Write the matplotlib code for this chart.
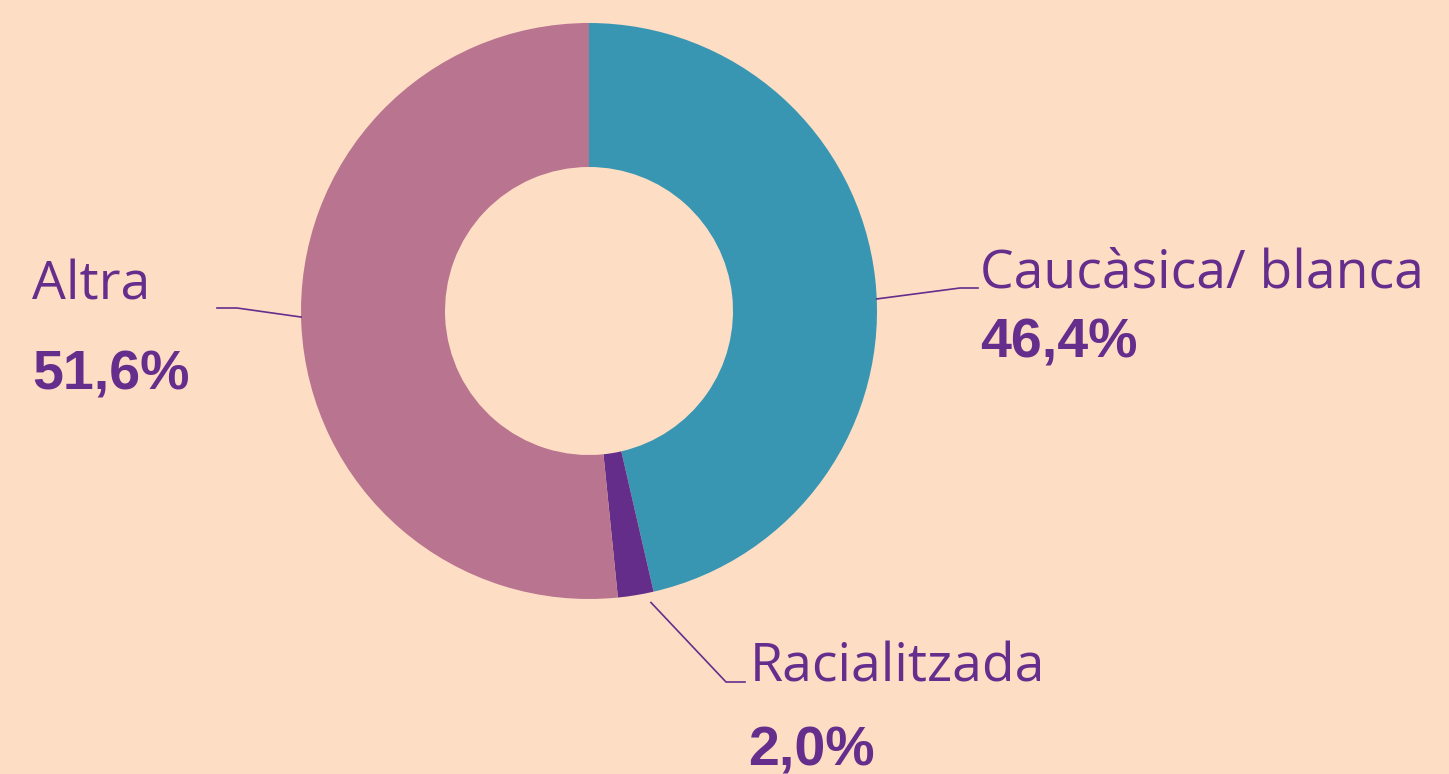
import numpy as np
import matplotlib
matplotlib.use("Agg")
import matplotlib.pyplot as plt

# ── Data ────────────────────────────────────────────
categories = ["Caucàsica/ blanca", "Racialitzada", "Altra"]
values = [46.4, 2.0, 51.6]
pct_labels = ["46,4%", "2,0%", "51,6%"]
colors = ["#3896B2", "#642D8A", "#B9748F"]

BG = "#FDDEC5"
TXT = "#652D8C"

W, H = 1449, 774
fig = plt.figure(figsize=(W / 100, H / 100), dpi=100, facecolor=BG)
ax = fig.add_axes([0, 0, 1, 1])
ax.set_facecolor(BG)

cx, cy, R = 589, H - 311, 288
ax.pie(values, colors=colors, startangle=90, counterclock=False,
       radius=R, center=(cx, cy), frame=True,
       wedgeprops=dict(width=R * 0.5, linewidth=0))
ax.set_xlim(0, W); ax.set_ylim(0, H)
ax.set_aspect("auto")
ax.axis("off")

# ── Leader lines + labels (angle on ring, elbow, text position) ──
layout = [
    # angle, r_start, elbow(x,y), end x, label xy, pct xy
    (2.4, 288, (960, H - 288), 978, (980, H - 288), (980, H - 358)),
    (-78.0, 298, (726, H - 682), 745, (750, H - 682), (748, H - 765)),
    (181.2, 288, (237, H - 308), 217, (32, H - 300), (32, H - 390)),
]
for cat, pct, (ang, r0, elbow, xend, lab_xy, pct_xy) in zip(categories, pct_labels, layout):
    a = np.deg2rad(ang)
    x0, y0 = cx + r0 * np.cos(a), cy + r0 * np.sin(a)
    ax.plot([x0, elbow[0], xend], [y0, elbow[1], elbow[1]], color=TXT, lw=1.2)
    ax.text(lab_xy[0], lab_xy[1], cat, color=TXT, fontsize=38.5,
            family=["Open Sans", "DejaVu Sans"], ha="left", va="baseline")
    ax.text(pct_xy[0], pct_xy[1], pct, color=TXT, fontsize=40, fontweight="bold",
            family=["Liberation Sans", "DejaVu Sans"], ha="left", va="baseline")

fig.savefig("out.png", dpi=100, facecolor=BG)
